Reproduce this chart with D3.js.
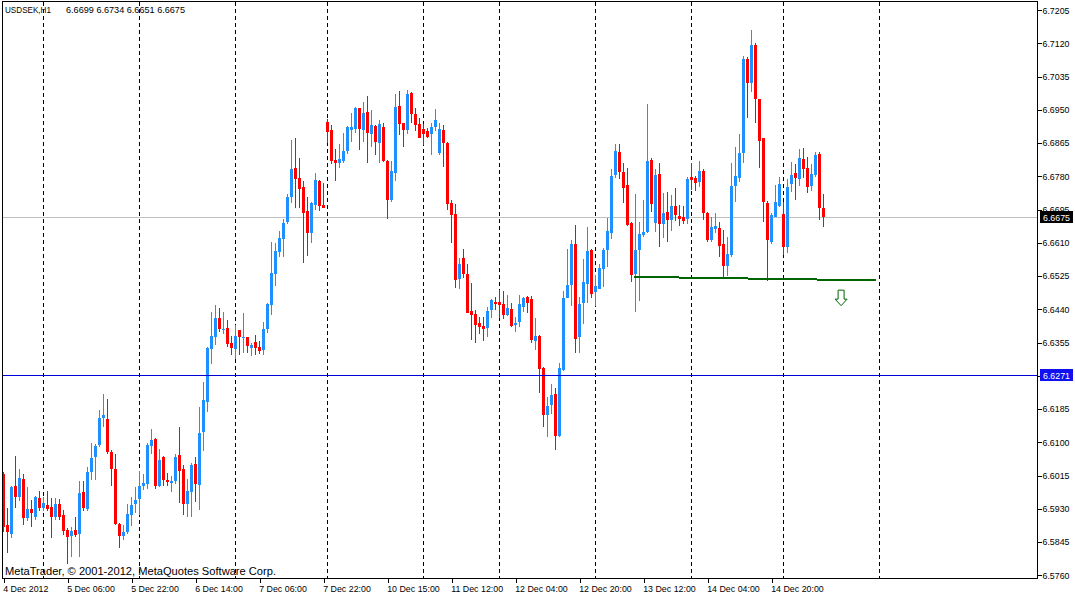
<!DOCTYPE html>
<html><head><meta charset="utf-8">
<script src="https://cdn.jsdelivr.net/npm/d3@7/dist/d3.min.js"></script>
<style>body{margin:0;background:#fff}svg{display:block}</style>
</head><body>
<svg id="chart" width="1075" height="596"></svg>
<script>
// ---- data (USDSEK, H1), bar index 0 = 4 Dec 2012 14:00 ----
const opens=[6.6019,6.5889,6.5866,6.5989,6.5961,6.6007,6.5907,6.5929,6.5910,6.5958,
6.5932,6.5939,6.5935,6.5910,6.5942,6.5914,6.5875,6.5860,6.5876,6.5865,
6.5974,6.5930,6.6025,6.6063,6.6093,6.6161,6.6159,6.6076,6.6032,6.5892,
6.5861,6.5871,6.5914,6.5941,6.5956,6.5989,6.5994,6.6091,6.6108,6.5987,
6.6062,6.6003,6.5997,6.6001,6.6067,6.6031,6.5942,6.5974,6.6045,6.5992,
6.6125,6.6204,6.6338,6.6368,6.6418,6.6387,6.6393,6.6355,6.6339,6.6387,
6.6368,6.6369,6.6342,6.6356,6.6343,6.6336,6.6389,6.6451,6.6529,6.6587,
6.6621,6.6664,6.6726,6.6801,6.6776,6.6753,6.6691,6.6636,6.6707,6.6768,
6.6707,6.6920,6.6898,6.6822,6.6815,6.6819,6.6846,6.6898,6.6902,6.6955,
6.6899,6.6944,6.6889,6.6909,6.6866,6.6906,6.6820,6.6720,6.6789,6.6961,
6.6916,6.6898,6.6993,6.6939,6.6915,6.6901,6.6896,6.6889,6.6907,6.6839,
6.6899,6.6864,6.6711,6.6683,6.6517,6.6571,6.6531,6.6436,6.6428,6.6406,
6.6397,6.6393,6.6437,6.6459,6.6459,6.6454,6.6426,6.6440,6.6399,6.6408,
6.6447,6.6471,6.6466,6.6360,6.6372,6.6291,6.6170,6.6195,6.6224,6.6117,
6.6285,6.6470,6.6502,6.6607,6.6368,6.6455,6.6505,6.6592,6.6485,6.6492,
6.6543,6.6592,6.6636,6.6783,6.6841,6.6790,6.6758,6.6660,6.6530,6.6592,
6.6630,6.6638,6.6822,6.6660,6.6786,6.6658,6.6689,6.6668,6.6704,6.6679,
6.6676,6.6670,6.6778,6.6777,6.6766,6.6794,6.6687,6.6617,6.6645,6.6648,
6.6607,6.6552,6.6579,6.6756,6.6777,6.6839,6.7080,6.7019,6.7116,6.6978,
6.6877,6.6713,6.6613,6.6677,6.6705,6.6684,6.6600,6.6760,6.6789,6.6773,
6.6824,6.6801,6.6756,6.6783,6.6836,6.6699];
const highs=[6.6024,6.5933,6.5989,6.6065,6.6032,6.6019,6.5985,6.5953,6.5963,6.5976,
6.5961,6.5976,6.5957,6.5957,6.5954,6.5927,6.5882,6.5884,6.5910,6.6001,
6.6002,6.6036,6.6099,6.6095,6.6183,6.6224,6.6210,6.6080,6.6071,6.5893,
6.5889,6.5943,6.5960,6.5985,6.6026,6.6020,6.6097,6.6134,6.6112,6.6084,
6.6065,6.6022,6.6013,6.6071,6.6139,6.6042,6.6006,6.6048,6.6062,6.6191,
6.6254,6.6344,6.6434,6.6451,6.6443,6.6434,6.6413,6.6372,6.6400,6.6388,
6.6431,6.6370,6.6355,6.6374,6.6360,6.6407,6.6457,6.6612,6.6609,6.6639,
6.6670,6.6735,6.6873,6.6879,6.6826,6.6768,6.6727,6.6715,6.6788,6.6771,
6.6764,6.6927,6.6911,6.6850,6.6863,6.6892,6.6909,6.6941,6.6958,6.6955,
6.6970,6.6985,6.6950,6.6911,6.6924,6.6917,6.6822,6.6820,6.6990,6.6998,
6.6917,6.7001,6.6996,6.6955,6.6928,6.6915,6.6904,6.6917,6.6952,6.6916,
6.6911,6.6867,6.6720,6.6708,6.6571,6.6593,6.6555,6.6507,6.6438,6.6421,
6.6421,6.6447,6.6467,6.6472,6.6489,6.6487,6.6477,6.6455,6.6421,6.6477,
6.6472,6.6474,6.6474,6.6417,6.6374,6.6293,6.6217,6.6249,6.6238,6.6302,
6.6487,6.6594,6.6617,6.6656,6.6472,6.6569,6.6650,6.6593,6.6528,6.6555,
6.6596,6.6673,6.6799,6.6863,6.6863,6.6815,6.6802,6.6662,6.6735,6.6662,
6.6720,6.6965,6.6827,6.6800,6.6813,6.6737,6.6740,6.6732,6.6750,6.6707,
6.6704,6.6779,6.6815,6.6782,6.6819,6.6799,6.6690,6.6677,6.6687,6.6663,
6.6643,6.6625,6.6813,6.6856,6.6888,6.7088,6.7084,6.7154,6.7122,6.6978,
6.6877,6.6717,6.6685,6.6758,6.6779,6.6715,6.6773,6.6816,6.6812,6.6850,
6.6852,6.6829,6.6812,6.6841,6.6841,6.6734];
const lows=[6.5871,6.5818,6.5855,6.5931,6.5949,6.5889,6.5899,6.5884,6.5901,6.5925,
6.5925,6.5925,6.5854,6.5900,6.5901,6.5863,6.5788,6.5807,6.5859,6.5807,
6.5925,6.5925,6.6004,6.6004,6.6089,6.6140,6.6070,6.5987,6.5889,6.5829,
6.5850,6.5866,6.5887,6.5918,6.5914,6.5977,6.5980,6.6071,6.5980,6.5985,
6.5987,6.5987,6.5972,6.5994,6.5946,6.5913,6.5910,6.5908,6.5948,6.5927,
6.6078,6.6178,6.6301,6.6348,6.6381,6.6378,6.6344,6.6323,6.6312,6.6323,
6.6329,6.6327,6.6321,6.6323,6.6325,6.6323,6.6380,6.6425,6.6500,6.6573,
6.6573,6.6659,6.6711,6.6698,6.6698,6.6559,6.6576,6.6610,6.6694,6.6692,
6.6698,6.6864,6.6812,6.6769,6.6802,6.6815,6.6837,6.6869,6.6892,6.6847,
6.6869,6.6815,6.6856,6.6835,6.6813,6.6817,6.6670,6.6715,6.6769,6.6886,
6.6856,6.6888,6.6916,6.6897,6.6878,6.6860,6.6877,6.6835,6.6897,6.6834,
6.6803,6.6694,6.6610,6.6494,6.6492,6.6519,6.6430,6.6361,6.6353,6.6377,
6.6360,6.6370,6.6419,6.6437,6.6419,6.6416,6.6424,6.6396,6.6383,6.6396,
6.6434,6.6431,6.6355,6.6336,6.6225,6.6140,6.6113,6.6172,6.6079,6.6113,
6.6282,6.6468,6.6449,6.6329,6.6329,6.6403,6.6455,6.6470,6.6449,6.6491,
6.6498,6.6549,6.6619,6.6775,6.6773,6.6713,6.6654,6.6510,6.6434,6.6460,
6.6626,6.6636,6.6689,6.6638,6.6600,6.6623,6.6613,6.6639,6.6667,6.6654,
6.6658,6.6659,6.6745,6.6742,6.6754,6.6668,6.6613,6.6613,6.6634,6.6575,
6.6519,6.6525,6.6575,6.6715,6.6766,6.6815,6.6930,6.6996,6.6917,6.6802,
6.6664,6.6513,6.6607,6.6675,6.6702,6.6579,6.6585,6.6741,6.6720,6.6755,
6.6775,6.6738,6.6743,6.6779,6.6668,6.6651];
const closes=[6.5884,6.5870,6.5986,6.5959,6.6008,6.5907,6.5930,6.5920,6.5959,6.5933,
6.5945,6.5930,6.5910,6.5942,6.5910,6.5874,6.5859,6.5873,6.5863,6.5970,
6.5931,6.6025,6.6061,6.6090,6.6162,6.6171,6.6076,6.6032,6.5892,6.5860,
6.5871,6.5917,6.5939,6.5953,6.5989,6.5996,6.6093,6.6106,6.5987,6.6054,
6.6003,6.5999,6.6002,6.6062,6.6027,6.5942,6.5976,6.6042,6.5994,6.6124,
6.6208,6.6342,6.6371,6.6418,6.6390,6.6389,6.6352,6.6341,6.6372,6.6368,
6.6369,6.6347,6.6349,6.6340,6.6334,6.6390,6.6454,6.6533,6.6589,6.6622,
6.6660,6.6727,6.6800,6.6774,6.6748,6.6687,6.6636,6.6712,6.6771,6.6705,
6.6699,6.6894,6.6819,6.6813,6.6824,6.6845,6.6907,6.6906,6.6955,6.6902,
6.6942,6.6892,6.6911,6.6869,6.6915,6.6820,6.6720,6.6794,6.6957,6.6914,
6.6898,6.6991,6.6939,6.6911,6.6879,6.6888,6.6881,6.6906,6.6924,6.6901,
6.6864,6.6709,6.6681,6.6515,6.6556,6.6531,6.6431,6.6426,6.6401,6.6396,
6.6390,6.6436,6.6463,6.6454,6.6450,6.6426,6.6443,6.6398,6.6404,6.6454,
6.6470,6.6457,6.6362,6.6372,6.6287,6.6170,6.6193,6.6220,6.6117,6.6290,
6.6469,6.6502,6.6607,6.6364,6.6454,6.6510,6.6589,6.6479,6.6500,6.6546,
6.6592,6.6640,6.6781,6.6844,6.6791,6.6751,6.6656,6.6528,6.6592,6.6633,
6.6638,6.6819,6.6710,6.6783,6.6659,6.6686,6.6668,6.6704,6.6680,6.6671,
6.6667,6.6773,6.6771,6.6763,6.6794,6.6685,6.6617,6.6650,6.6653,6.6603,
6.6552,6.6581,6.6755,6.6781,6.6839,6.7080,6.7019,6.7116,6.6977,6.6871,
6.6715,6.6616,6.6681,6.6715,6.6760,6.6600,6.6754,6.6783,6.6777,6.6828,
6.6799,6.6754,6.6786,6.6835,6.6700,6.6675];

const separatorBars=[10,34,58,81,105,124,148,172,195,219];
const timeLabelBars=[0,16,32,48,64,80,96,112,128,144,160,176,192];
const timeLabels=["4 Dec 2012","5 Dec 06:00","5 Dec 22:00","6 Dec 14:00","7 Dec 06:00",
"7 Dec 22:00","10 Dec 15:00","11 Dec 12:00","12 Dec 04:00","12 Dec 20:00",
"13 Dec 12:00","14 Dec 04:00","14 Dec 20:00"];
const priceTicks=[6.7205,6.7120,6.7035,6.6950,6.6865,6.6780,6.6695,6.6610,6.6525,
6.6440,6.6355,6.6270,6.6185,6.6100,6.6015,6.5930,6.5845,6.5760];
const bidPrice=6.6675;
const hLinePrice=6.6271;
const trendBars=[157.6,218.1];
const trendPrices=[6.6523,6.6514];
const arrowBar=209.4, arrowPrice=6.6489;
const symbolText="USDSEK,H1";
const ohlcText="6.6699 6.6734 6.6651 6.6675";
const copyrightText="MetaTrader, \u00A9 2001-2012, MetaQuotes Software Corp.";

// ---- drawing ----
const FONT='"Liberation Sans", Arial, sans-serif';
const BULL="#1E90FF", BEAR="#FF0000";
const svg=d3.select("#chart");
svg.append("rect").attr("width",1075).attr("height",596).attr("fill","#fff");

const x=d3.scaleLinear().domain([0,219]).range([3.5,879.5]);
const y=d3.scaleLinear().domain([bidPrice,hLinePrice]).range([217.4,375.4]);
const crispY=p=>Math.round(y(p)-0.5)+0.5;

const plotL=2.5, plotT=1.5, plotR=1037.5, plotB=578.5;

// period separators
svg.append("g").selectAll("line").data(separatorBars).join("line")
  .attr("x1",d=>x(d)).attr("x2",d=>x(d)).attr("y1",plotT).attr("y2",plotB)
  .attr("stroke","#000").attr("stroke-dasharray","4,3").attr("shape-rendering","crispEdges");

// bid line
svg.append("line").attr("x1",plotL).attr("x2",plotR).attr("y1",crispY(bidPrice)).attr("y2",crispY(bidPrice))
  .attr("stroke","#C0C0C0").attr("shape-rendering","crispEdges");

// candles
const bars=d3.range(opens.length).map(i=>({i,o:opens[i],h:highs[i],l:lows[i],c:closes[i]}));
const cg=svg.append("g").attr("shape-rendering","crispEdges");
cg.selectAll("line").data(bars).join("line")
  .attr("x1",d=>x(d.i)).attr("x2",d=>x(d.i))
  .attr("y1",d=>y(d.h)).attr("y2",d=>y(d.l))
  .attr("stroke",d=>d.c>=d.o?BULL:BEAR);
cg.selectAll("rect").data(bars).join("rect")
  .attr("x",d=>x(d.i)-1.5).attr("width",3)
  .attr("y",d=>Math.min(y(d.o),y(d.c)))
  .attr("height",d=>Math.max(1,Math.abs(y(d.o)-y(d.c))))
  .attr("fill",d=>d.c>=d.o?BULL:BEAR);

// horizontal line object
svg.append("line").attr("x1",plotL).attr("x2",plotR).attr("y1",crispY(hLinePrice)).attr("y2",crispY(hLinePrice))
  .attr("stroke","#0000D8").attr("shape-rendering","crispEdges");

// trend line
svg.append("path").datum(trendBars.map((b,k)=>[x(b),y(trendPrices[k])]))
  .attr("d",d3.line()).attr("stroke","#006400").attr("stroke-width",2).attr("fill","none")
  .attr("shape-rendering","crispEdges");

// down arrow
{
  const ax=x(arrowBar), ay=y(arrowPrice);
  const pth=d3.path();
  pth.moveTo(ax-3,ay); pth.lineTo(ax+3,ay); pth.lineTo(ax+3,ay+9); pth.lineTo(ax+6,ay+9);
  pth.lineTo(ax,ay+15.5); pth.lineTo(ax-6,ay+9); pth.lineTo(ax-3,ay+9); pth.closePath();
  svg.append("path").attr("d",pth.toString()).attr("fill","#fff").attr("stroke","#006400").attr("stroke-width",1);
}

// frame
svg.append("rect").attr("x",plotL).attr("y",plotT).attr("width",plotR-plotL).attr("height",plotB-plotT)
  .attr("fill","none").attr("stroke","#000").attr("shape-rendering","crispEdges");

// price axis
const yAxis=d3.axisRight(y).tickValues(priceTicks).tickFormat(d3.format(".4f")).tickSize(4).tickPadding(1);
const ya=svg.append("g").attr("transform",`translate(${plotR},0)`).call(yAxis);
ya.select(".domain").remove();
ya.selectAll("line").attr("shape-rendering","crispEdges");
ya.selectAll("text").attr("font-family",FONT).attr("font-size","9px").attr("fill","#000")
  .attr("textLength",27).attr("lengthAdjust","spacingAndGlyphs");

// time axis
const xAxis=d3.axisBottom(x).tickValues(timeLabelBars).tickFormat((d,k)=>timeLabels[k]).tickSize(4);
const xa=svg.append("g").attr("transform",`translate(0,${plotB})`).call(xAxis);
xa.select(".domain").remove();
xa.selectAll("line").attr("shape-rendering","crispEdges");
xa.selectAll("text").attr("font-family",FONT).attr("font-size","9.5px").attr("fill","#000")
  .attr("text-anchor","start").attr("x",-0.8).attr("y",13.5).attr("dy",null);
xa.selectAll("text").each(function(){
  const w=this.getComputedTextLength();
  d3.select(this).attr("textLength",w*0.93).attr("lengthAdjust","spacingAndGlyphs");
});

// price labels (bid and line)
function priceBox(p,fill){
  const cy=y(p);
  svg.append("rect").attr("x",1040).attr("y",Math.round(cy)-6).attr("width",33).attr("height",12)
    .attr("fill",fill).attr("shape-rendering","crispEdges");
  svg.append("text").attr("x",1043).attr("y",Math.round(cy)+3.5).text(d3.format(".4f")(p))
    .attr("font-family",FONT).attr("font-size","9px").attr("fill","#fff")
    .attr("textLength",27).attr("lengthAdjust","spacingAndGlyphs");
}
priceBox(bidPrice,"#000");
priceBox(hLinePrice,"#1010F0");

// title & copyright
svg.append("text").attr("x",5).attr("y",13).text(symbolText)
  .attr("font-family",FONT).attr("font-size","9px").attr("textLength",46).attr("lengthAdjust","spacingAndGlyphs");
svg.append("text").attr("x",66).attr("y",13).text(ohlcText)
  .attr("font-family",FONT).attr("font-size","9px").attr("textLength",119).attr("lengthAdjust","spacingAndGlyphs");
svg.append("text").attr("x",5).attr("y",575).text(copyrightText)
  .attr("font-family",FONT).attr("font-size","11px").attr("textLength",271).attr("lengthAdjust","spacingAndGlyphs");
</script>
</body></html>
